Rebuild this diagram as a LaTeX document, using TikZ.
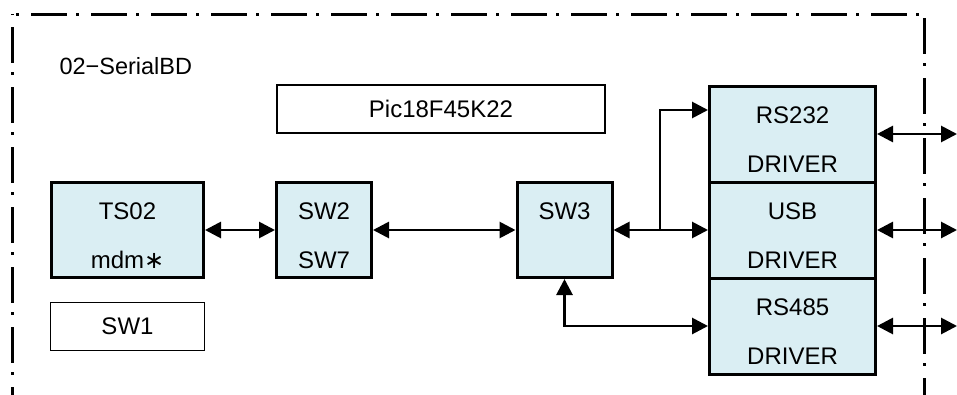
\documentclass[tikz,border=0pt]{standalone}
\usepackage{fontspec}
\setmainfont{Liberation Sans}
\newfontfamily\symfont{DejaVu Sans}
\usetikzlibrary{arrows.meta}
\definecolor{BoxBlue}{HTML}{DAEEF3}
\tikzset{
    block/.style = {draw, rectangle, line width=3pt, fill=BoxBlue,
        minimum width=#1,
        minimum height=95pt, inner sep=0pt, align=center,
        text height=77pt,
        font=\fontsize{24}{49}\selectfont},
    block/.default = 95pt,
    namebox/.style = {draw, rectangle, line width=1.5pt,
        minimum width=#1,
        minimum height=48pt, inner sep=0pt,
        font=\fontsize{24}{29}\selectfont},
    arrow/.style = {draw, line width=2.8pt, -{Triangle[length=16pt,width=16pt]}},
    biarrow/.style = {draw, line width=2.8pt, {Triangle[length=16pt,width=16pt]}-{Triangle[length=16pt,width=16pt]}},
    frame/.style = {line width=3pt, dash pattern=on 36pt off 9pt on 3pt off 12pt}
}

\begin{document}
\begin{tikzpicture}[x=1pt, y=-1pt]
            \useasboundingbox (0,0) rectangle (957,394);
            % board outline
            \draw [frame, dash phase=41pt] (12,14) -- (924,14);
            \draw [frame, dash phase=47pt] (12,14) -- (12,420);
            \draw [frame, dash phase=56pt] (924,14) -- (924,420);
            \node[anchor=base west, font=\fontsize{23.5}{28}\selectfont] (title) at (56,74) {02−SerialBD};
            \node[namebox=328pt] (pic) at (441,109) {Pic18F45K22};
            \node[namebox=154pt] (sw1) at (127.5,326.5) {SW1};
            % blocks
            \node[block=152pt] (ts02) at (127.5,230) {TS02\\mdm{\symfont ∗}};
            \node[block] (sw27) at (324,230) {SW2\\SW7};
            \node[block] (sw3) at (564.5,230) {SW3\\\mbox{}};
            \node[block=166pt, minimum height=96pt] (rs232) at (792.5,134) {RS232\\DRIVER};
            \node[block=166pt, minimum height=96pt] (usb) at (792.5,230) {USB\\DRIVER};
            \node[block=166pt, minimum height=96pt] (rs485) at (792.5,326) {RS485\\DRIVER};
            \coordinate (split) at (660,230);
            \coordinate (out1) at (957,134);
            \coordinate (out2) at (957,230);
            \coordinate (out3) at (957,326);
            % links
            \draw [biarrow] (ts02) -- (sw27);
            \draw [biarrow] (sw27) -- (sw3);
            \draw [biarrow] (sw3) -- (usb);
            \draw [arrow] (split) |- ([yshift=24pt]rs232.west);
            \draw [biarrow] (sw3.south) |- (rs485.west);
            \draw [biarrow] (rs232) -- (out1);
            \draw [biarrow] (usb) -- (out2);
            \draw [biarrow] (rs485) -- (out3);
        \end{tikzpicture}
\end{document}
